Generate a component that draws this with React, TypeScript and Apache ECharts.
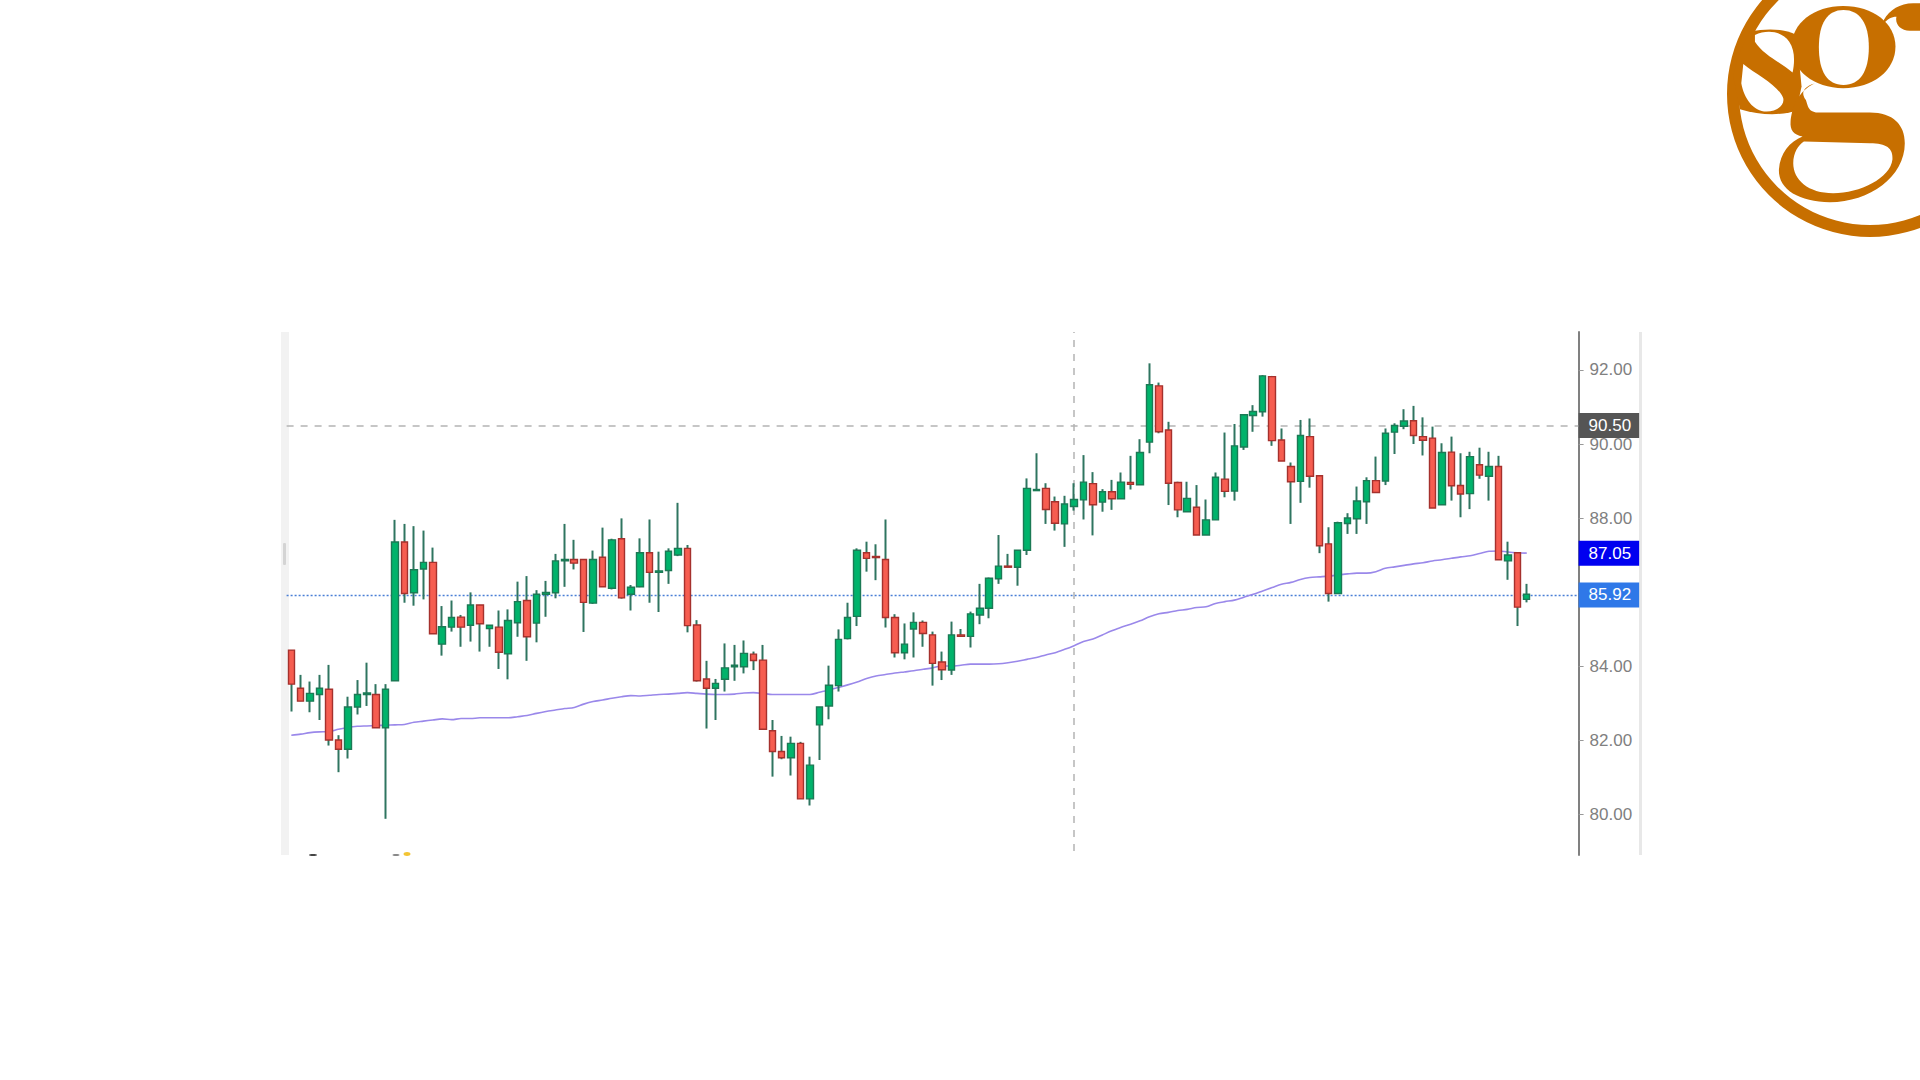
import React, { useEffect, useRef } from "react";
import * as echarts from "echarts";

const opens = [84.43,83.40,83.05,83.23,83.37,82.00,81.75,82.89,83.23,83.23,82.33,83.60,87.35,85.98,86.62,86.80,84.59,85.05,85.32,85.10,85.65,85.01,85.05,84.33,85.17,85.77,85.16,85.94,85.98,86.84,86.88,86.88,85.70,86.94,86.10,87.44,85.94,86.14,87.06,86.53,86.58,87.00,
87.18,85.11,83.65,83.40,83.64,83.98,83.98,84.32,84.16,82.25,81.69,81.52,81.91,80.41,82.41,82.92,83.47,84.74,85.34,87.06,86.96,86.88,85.31,84.36,85.00,85.18,84.84,84.11,83.89,84.84,84.80,85.38,85.56,86.36,86.70,86.67,87.13,88.74,88.80,88.44,
87.84,88.31,88.49,88.93,88.43,88.71,88.52,88.96,88.90,90.05,91.57,90.38,88.96,88.17,88.29,87.54,87.95,89.05,88.73,89.92,90.77,90.87,91.82,90.11,89.39,88.99,90.20,89.14,87.30,85.96,
87.85,87.98,88.44,89.01,89.00,90.32,90.48,90.63,90.20,90.16,88.36,89.78,88.88,88.66,89.44,89.13,89.39,86.84,87.06,85.80];
const closes = [83.51,83.05,83.26,83.40,82.00,81.75,82.89,83.23,83.27,82.33,83.37,87.35,85.96,86.60,86.80,84.87,85.06,85.31,85.05,85.65,85.14,85.10,84.37,85.23,85.74,84.79,85.94,85.99,86.84,86.88,86.78,85.72,86.88,86.14,87.41,85.84,86.13,87.06,86.53,86.57,87.10,87.18,
85.09,83.60,83.40,83.53,83.95,84.02,84.34,84.15,82.29,81.69,81.52,81.91,80.41,81.32,82.89,83.48,84.72,85.31,87.13,86.91,86.93,85.31,84.36,84.59,85.18,84.88,84.07,83.90,84.84,84.80,85.41,85.56,86.37,86.70,86.67,87.13,88.80,88.77,88.23,87.86,
88.38,88.50,88.97,88.36,88.71,88.52,88.97,88.91,89.77,91.60,90.33,88.94,88.22,88.53,87.54,87.95,89.10,88.72,89.95,90.79,90.88,91.84,90.09,89.54,88.98,90.23,89.13,87.25,85.96,87.87,
88.00,88.46,89.01,88.69,90.29,90.50,90.62,90.23,90.10,88.27,89.77,88.87,88.65,89.66,89.16,89.39,86.87,87.00,85.59,85.94];
const lows = [82.77,83.05,82.75,82.54,81.85,81.13,81.50,82.69,82.92,82.33,79.87,83.60,85.71,85.63,85.80,84.87,84.28,84.93,84.52,84.66,84.39,84.52,83.92,83.64,84.79,84.14,84.64,85.33,85.83,86.14,86.61,84.92,85.68,86.14,86.07,85.82,85.50,86.13,85.71,85.46,86.22,86.97,
84.91,83.58,82.31,82.54,83.31,83.60,83.80,83.89,82.29,81.01,81.48,81.04,80.41,80.23,81.46,82.56,83.31,84.72,85.08,86.55,86.32,85.04,84.23,84.18,84.23,84.52,83.47,83.62,83.76,84.80,84.50,85.13,85.29,86.22,86.67,86.17,87.00,88.74,87.84,87.66,
87.22,88.20,87.96,87.53,88.17,88.22,88.52,88.77,88.90,89.75,90.29,88.35,88.02,88.17,87.54,87.54,87.95,88.56,88.47,89.84,90.33,90.74,89.95,89.54,87.84,88.41,88.82,87.05,85.74,85.96,
87.57,87.57,87.84,88.69,88.89,89.73,90.40,90.00,89.69,88.27,88.36,88.47,88.02,88.24,89.06,88.47,86.87,86.33,85.08,85.72];
const highs = [84.43,83.76,83.58,83.76,84.03,82.13,83.17,83.62,84.09,83.51,83.51,87.95,87.84,87.78,87.66,87.20,85.62,85.77,85.38,85.99,85.65,85.10,85.50,85.53,86.28,86.43,86.05,86.30,87.03,87.84,87.41,86.88,87.12,87.74,87.44,87.99,86.19,87.45,87.96,87.09,87.18,88.41,
87.27,85.24,84.14,83.65,84.61,84.57,84.69,84.39,84.57,82.54,82.11,82.09,81.95,81.55,82.89,84.01,84.99,85.71,87.18,87.36,87.29,87.96,85.40,85.15,85.45,85.23,84.93,84.39,85.20,85.00,85.47,86.22,86.39,87.54,87.03,87.13,89.07,89.75,88.94,88.58,
88.60,88.94,89.70,89.24,88.78,89.03,89.23,89.68,90.13,92.18,91.66,90.60,88.98,88.98,88.89,88.50,89.23,90.31,90.54,90.79,91.05,91.86,91.84,90.42,89.50,90.65,90.69,89.14,87.75,87.90,
88.13,88.85,89.10,89.66,90.42,90.56,90.94,91.03,90.72,90.47,90.02,90.20,89.75,89.79,89.90,89.79,89.68,87.36,87.06,86.22];
const movingAverage = [82.13,82.16,82.20,82.22,82.23,82.29,82.34,82.37,82.38,82.39,82.40,82.41,82.42,82.48,82.51,82.54,82.57,82.55,82.58,82.58,82.60,82.60,82.60,82.60,82.63,82.66,82.72,82.77,82.81,82.85,82.88,82.97,83.04,83.08,83.13,83.17,83.20,83.19,83.21,83.23,83.24,83.26,
83.28,83.26,83.24,83.23,83.23,83.24,83.27,83.28,83.26,83.23,83.23,83.23,83.23,83.23,83.29,83.35,83.42,83.49,83.57,83.66,83.73,83.77,83.81,83.84,83.87,83.91,83.95,84.00,84.00,84.02,84.05,84.05,84.05,84.06,84.09,84.13,84.18,84.23,84.30,84.36,
84.45,84.55,84.66,84.73,84.84,84.95,85.05,85.13,85.22,85.33,85.41,85.45,85.50,85.53,85.58,85.60,85.69,85.74,85.78,85.86,85.94,86.03,86.12,86.21,86.26,86.34,86.39,86.41,86.43,86.46,
86.49,86.51,86.51,86.55,86.64,86.68,86.72,86.76,86.79,86.84,86.87,86.91,86.95,86.98,87.04,87.10,87.11,87.08,87.06,87.05];
const tickLabels = [80, 82, 84, 86, 88, 90, 92];
const slotCount = 137;
const categories = Array.from({ length: slotCount }, (_, i) => String(i));
const crosshairCategory = "83";
const crosshairPrice = 90.5;
const lastPrice = 85.92;
const averagePrice = 87.05;
const crosshairBottom = 79;
const crosshairTop = 93.027;

const LOGO: Record<string, string> = {
  sgS: "M150 95 C200 85 250 85 290 105 L305 260 L290 330 C260 345 190 350 120 328 L100 230 C110 170 130 130 150 95Z",
  sgBowl: "M430 18 C520 18 587 70 587 140 C587 212 520 265 430 265 C342 265 275 212 275 140 C275 70 342 18 430 18Z",
  sgEar: "M552 60 C570 30 600 10 640 10 L665 10 L665 92 L630 92 C600 92 585 70 590 50 C575 50 562 58 552 70Z",
  sgLoop: "M345 250 C315 260 300 275 318 300 C325 320 325 338 360 338 L510 338 C580 338 615 375 615 430 C615 530 510 607 390 607 C300 607 235 570 237 510 C240 460 270 425 308 410 C280 405 270 390 272 365 C275 330 290 275 345 250Z",
  sgBowlIn: "M431 30 C480 30 507 70 507 142 C507 215 480 255 431 255 C382 255 357 215 357 142 C357 70 382 30 431 30Z",
  sgLoopIn: "M312 425 L510 430 C560 430 580 445 578 478 C572 535 480 580 400 580 C325 580 280 540 280 490 C280 460 295 435 312 425Z",
  sgSUp: "M165 105 C200 88 245 92 268 125 C285 150 285 185 278 218 C240 185 190 165 165 125Z",
  sgSLow: "M130 192 C170 225 235 255 250 295 C255 320 225 335 200 335 C160 335 132 295 124 250Z",
};
Object.keys(LOGO).forEach((k) => {
  echarts.graphic.registerShape(k, echarts.graphic.extendPath(LOGO[k], {}));
});

const LOGO_COLOR = "#c76f00";
const logoPart = (type: string, fill: string, z: number) => ({
  type, x: 1700, y: 0, scaleX: 1 / 3, scaleY: 1 / 3, z, silent: true, style: { fill },
});

const tag = (bg: string) => ({
  show: true,
  position: "end",
  distance: 0,
  color: "#ffffff",
  backgroundColor: bg,
  fontSize: 17,
  fontFamily: "Liberation Sans",
  padding: [4, 8, 4, 10],
  formatter: (p: any) => Number(p.value).toFixed(2),
});

const dashedGrey = { color: "#b4b4b4", type: [7, 7], width: 1.5 };

export default function App() {
  const ref = useRef<HTMLDivElement>(null);
  useEffect(() => {
    const chart = echarts.init(ref.current!, undefined, { renderer: "svg" });
    const full = opens.map((o, i) => [o, closes[i], lows[i], highs[i]]);
    const bodies = opens.map((o, i) => [o, closes[i], Math.min(o, closes[i]), Math.max(o, closes[i])]);
    chart.setOption({
      animation: false,
      backgroundColor: "#ffffff",
      grid: { left: 286.6, top: 332, width: 1292, height: 523, containLabel: false },
      xAxis: { type: "category", data: categories, show: false, boundaryGap: true },
      yAxis: {
        type: "value",
        position: "right",
        min: 78.892,
        max: 93.027,
        scale: true,
        splitLine: { show: false },
        axisLine: { show: true, lineStyle: { color: "#808080", width: 2 } },
        axisTick: { show: true, length: 5, customValues: tickLabels, lineStyle: { color: "#999999", width: 1 } },
        axisLabel: {
          show: true,
          customValues: tickLabels,
          margin: 11,
          color: "#808080",
          fontSize: 17,
          fontFamily: "Liberation Sans",
          formatter: (v: number) => v.toFixed(2),
        },
      },
      series: [
        {
          type: "candlestick",
          name: "wicks",
          data: full,
          barWidth: 1,
          z: 3,
          itemStyle: { color: "#2f7560", color0: "#2f7560", borderColor: "#2f7560", borderColor0: "#2f7560", borderWidth: 2 },
        },
        {
          type: "candlestick",
          name: "bodies",
          data: bodies,
          barWidth: 7,
          z: 4,
          itemStyle: { color: "#00b36b", color0: "#f65d50", borderColor: "#1b7a55", borderColor0: "#a5312d", borderWidth: 1.4 },
        },
        {
          type: "line",
          name: "MA",
          data: movingAverage,
          symbol: "none",
          showSymbol: false,
          smooth: 0.3,
          z: 2,
          lineStyle: { color: "#9a88ea", width: 1.6 },
          markLine: {
            silent: true,
            symbol: "none",
            animation: false,
            precision: 2,
            z: 1,
            data: [
              { yAxis: crosshairPrice, lineStyle: dashedGrey, label: tag("#555555") },
              { yAxis: averagePrice, lineStyle: { color: "rgba(0,0,0,0)", width: 0 }, label: tag("#0000f0") },
              { yAxis: lastPrice, lineStyle: { color: "#4a7fd6", type: [2, 2], width: 1.4 }, label: tag("#2f78e8") },
              [
                { xAxis: crosshairCategory, yAxis: crosshairBottom, lineStyle: dashedGrey, label: { show: false } },
                { xAxis: crosshairCategory, yAxis: crosshairTop },
              ],
            ],
          },
        },
      ],
      graphic: [
        { type: "rect", z: 0, silent: true, shape: { x: 281, y: 332, width: 8, height: 523 }, style: { fill: "#f2f2f2" } },
        { type: "rect", z: 1, silent: true, shape: { x: 283, y: 543, width: 3, height: 22, r: 1 }, style: { fill: "#d4d4d4" } },
        { type: "rect", z: 0, silent: true, shape: { x: 1639, y: 332, width: 3, height: 523 }, style: { fill: "#e8e8e8" } },
        { type: "ellipse", z: 1, silent: true, shape: { cx: 313, cy: 855, rx: 4, ry: 1 }, style: { fill: "#444444" } },
        { type: "ellipse", z: 1, silent: true, shape: { cx: 396, cy: 855, rx: 3.5, ry: 1 }, style: { fill: "#888888" } },
        { type: "ellipse", z: 1, silent: true, shape: { cx: 407, cy: 854, rx: 3.5, ry: 2 }, style: { fill: "#f3c433" } },
        { type: "ring", z: 10, silent: true, shape: { cx: 1870, cy: 94, r: 143, r0: 131 }, style: { fill: LOGO_COLOR } },
        logoPart("sgS", LOGO_COLOR, 11),
        logoPart("sgBowl", LOGO_COLOR, 11),
        logoPart("sgEar", LOGO_COLOR, 11),
        logoPart("sgLoop", LOGO_COLOR, 11),
        logoPart("sgSUp", "#ffffff", 12),
        logoPart("sgSLow", "#ffffff", 12),
        logoPart("sgBowlIn", "#ffffff", 12),
        logoPart("sgLoopIn", "#ffffff", 12),
      ],
    });
    return () => chart.dispose();
  }, []);
  return (
    <div
      ref={ref}
      style={{ position: "fixed", left: 0, top: 0, width: 1920, height: 1080, overflow: "hidden", background: "#fff" }}
    />
  );
}
